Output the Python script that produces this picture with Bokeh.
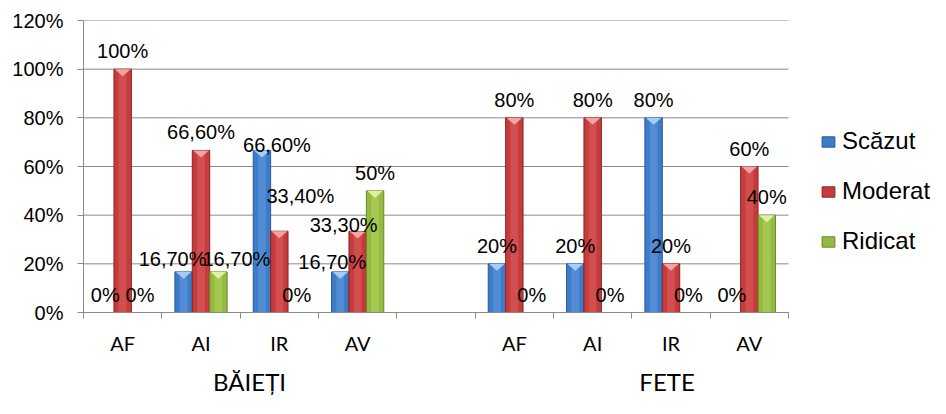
from bokeh.plotting import figure
from bokeh.models import (ColumnDataSource, Range1d, FixedTicker, Legend,
                          LegendItem, LinearAxis)
from bokeh.embed import file_html
from bokeh.resources import INLINE
from bokeh.core.properties import value

# ---------------- data ----------------
groups = ["BĂIEȚI", "FETE"]
indicators = ["AF", "AI", "IR", "AV"]
series = ["Scăzut", "Moderat", "Ridicat"]

baieti_scazut = [0, 16.7, 66.6, 16.7]
baieti_moderat = [100, 66.6, 33.4, 33.3]
baieti_ridicat = [0, 16.7, 0, 50]

fete_scazut = [20, 20, 80, 0]
fete_moderat = [80, 80, 20, 60]
fete_ridicat = [0, 0, 0, 40]

y_ticks = [0, 20, 40, 60, 80, 100, 120]

values = {
    ("BĂIEȚI", "Scăzut"): baieti_scazut,
    ("BĂIEȚI", "Moderat"): baieti_moderat,
    ("BĂIEȚI", "Ridicat"): baieti_ridicat,
    ("FETE", "Scăzut"): fete_scazut,
    ("FETE", "Moderat"): fete_moderat,
    ("FETE", "Ridicat"): fete_ridicat,
}

# manual nudges of some data labels (pixels), as in the original chart
label_nudge = {
    ("BĂIEȚI", "AI", "Scăzut"): (-11, 5),
    ("BĂIEȚI", "AI", "Ridicat"): (18, 5),
    ("BĂIEȚI", "IR", "Scăzut"): (15, 13),
    ("BĂIEȚI", "IR", "Moderat"): (21, -17),
    ("BĂIEȚI", "AV", "Scăzut"): (-8, 8),
    ("BĂIEȚI", "AV", "Moderat"): (-14, 12),
}

# position of the group titles along the category axis (slot units)
group_title_pos = [2.12, 7.45]

# ---------------- style ----------------
main_col = ["#3d7cc9", "#c63c3c", "#96ba3f"]
edge_col = ["#2a5a96", "#8a2222", "#67872a"]
light_col = ["#5f98de", "#dc5a5a", "#add25c"]
tip_col = ["#a6cdf5", "#f3a3a3", "#def0a2"]
grid_col = "#8a8a8a"

W, H = 930, 398
LEFT, TOP, BOTTOM = 83, 20, 85
PLOT_W = 705                     # width of the bar area
FRAME_H = H - TOP - BOTTOM
n_slots = len(indicators) * 2 + 1
px_per_unit = FRAME_H / 120.0
bar_w = 1 / 4.5
x_end = n_slots * (W - LEFT) / PLOT_W   # frame extends under the legend

p = figure(width=W, height=H, x_range=Range1d(0, x_end),
           y_range=Range1d(0, 120), output_backend="svg",
           toolbar_location=None, min_border_left=LEFT, min_border_right=0,
           min_border_top=TOP, min_border_bottom=BOTTOM)
p.outline_line_color = None
p.xgrid.grid_line_color = None
p.ygrid.grid_line_color = None

# horizontal gridlines only across the bar area
p.segment(x0=[0] * len(y_ticks), x1=[n_slots] * len(y_ticks), y0=y_ticks,
          y1=y_ticks, line_color=grid_col, line_width=1)


def fmt(v):
    if float(v).is_integer():
        return f"{int(v)}%"
    return f"{v:.2f}%".replace(".", ",")


legend_items = []
label_sources = []
for j, s in enumerate(series):
    xs, tops, labels, dxs, dys = [], [], [], [], []
    for gi, g in enumerate(groups):
        for k, ind in enumerate(indicators):
            slot = gi * (len(indicators) + 1) + k
            x = slot + 0.5 + (j - 1) * bar_w
            v = values[(g, s)][k]
            xs.append(x)
            tops.append(v)
            labels.append(fmt(v))
            dx, dy = label_nudge.get((g, ind, s), (0, 0))
            dxs.append(dx)
            dys.append(-18 + dy)
    src = ColumnDataSource(dict(x=xs, top=tops, label=labels, dx=dxs, dy=dys))
    label_sources.append(src)
    r = p.vbar(x="x", top="top", width=bar_w, bottom=0, source=src,
               fill_color=main_col[j], line_color=edge_col[j], line_width=1)
    p.vbar(x="x", top="top", width=bar_w * 0.45, bottom=0, source=src,
           fill_color=light_col[j], fill_alpha=0.6, line_color=None)
    # bevel tip at bar tops
    tri_x, tri_y = [], []
    for x, v in zip(xs, tops):
        if v > 4:
            tri_x.append([x - bar_w / 2 + 0.01, x + bar_w / 2 - 0.01, x])
            tri_y.append([v, v, v - 7 / px_per_unit])
    p.patches(tri_x, tri_y, fill_color=tip_col[j], line_color=None)
    legend_items.append(LegendItem(label=s, renderers=[r]))

# data labels drawn above every bar
for src in label_sources:
    p.text(x="x", y="top", text="label", x_offset="dx", y_offset="dy",
           source=src, text_align="center", text_baseline="alphabetic",
           text_font=value("Liberation Sans"), text_font_size="20px",
           text_color="black")

# y axis
p.yaxis.ticker = FixedTicker(ticks=y_ticks)
p.yaxis.major_label_overrides = {t: f"{t}%" for t in y_ticks}
p.yaxis.major_label_text_font = "Liberation Sans"
p.yaxis.major_label_text_font_size = "20px"
p.yaxis.major_label_text_color = "black"
p.yaxis.axis_line_color = grid_col
p.yaxis.major_tick_line_color = grid_col
p.yaxis.major_tick_in = 0
p.yaxis.major_tick_out = 6
p.yaxis.minor_tick_line_color = None
p.yaxis.major_label_standoff = 14

# category axis
centers = [i + 0.5 for i in range(n_slots)]
cat_labels = indicators + [""] + indicators
p.xaxis.bounds = (0, n_slots)
p.xaxis.ticker = FixedTicker(ticks=centers,
                             minor_ticks=list(range(n_slots + 1)))
p.xaxis.major_label_overrides = {c: l for c, l in zip(centers, cat_labels)}
p.xaxis.major_label_text_font = "Lato"
p.xaxis.major_label_text_font_size = "20px"
p.xaxis.major_label_text_color = "black"
p.xaxis.axis_line_color = grid_col
p.xaxis.major_tick_line_color = None
p.xaxis.major_tick_in = 0
p.xaxis.major_tick_out = 0
p.xaxis.minor_tick_line_color = grid_col
p.xaxis.minor_tick_in = 0
p.xaxis.minor_tick_out = 6
p.xaxis.major_label_standoff = 12

# group titles as a second category-level axis
gaxis = LinearAxis(ticker=FixedTicker(ticks=group_title_pos),
                   major_label_overrides={x: g for x, g in
                                          zip(group_title_pos, groups)},
                   axis_line_color=None, major_tick_line_color=None,
                   minor_tick_line_color=None, major_tick_in=0,
                   major_tick_out=0, major_label_standoff=9,
                   major_label_text_font="Lato",
                   major_label_text_font_size="24px",
                   major_label_text_color="black")
p.add_layout(gaxis, "below")

legend = Legend(items=legend_items, location=(737, 57),
                orientation="vertical", glyph_width=16, glyph_height=13,
                label_text_font="Liberation Sans", label_text_font_size="24px",
                label_text_color="black",
                label_standoff=6, label_height=26, spacing=22, padding=0,
                margin=0, border_line_color=None, background_fill_alpha=0)
p.add_layout(legend, "center")

open("out.html", "w").write(file_html(p, INLINE))
